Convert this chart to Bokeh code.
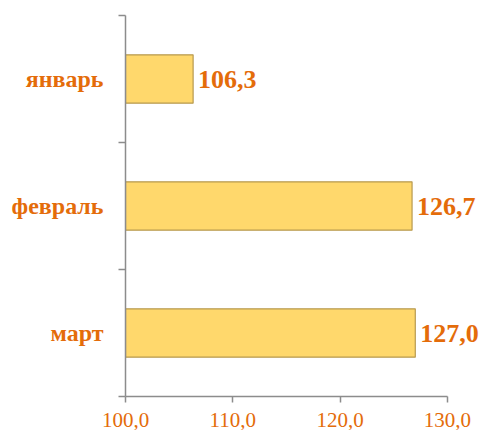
from bokeh.plotting import figure
from bokeh.models import ColumnDataSource, FixedTicker, LabelSet
from bokeh.embed import file_html
from bokeh.resources import INLINE

months = ["январь", "февраль", "март"]
values = [106.3, 126.7, 127.0]
x_ticks = [100, 110, 120, 130]

ORANGE = "#E46C0A"
FONT = "Liberation Serif"

n = len(months)
# bottom-to-top positions: first month on top
pos = [n - 1 - i + 0.5 for i in range(n)]
labels = [f"{v:.1f}".replace(".", ",") for v in values]

src = ColumnDataSource(dict(y=pos, v=values, lab=labels, left=[x_ticks[0]] * n))

p = figure(width=481, height=430, output_backend="svg", toolbar_location=None,
           x_range=(100, 133.17), y_range=(0, n),
           min_border_left=125, min_border_right=0, min_border_top=15, min_border_bottom=34)
p.outline_line_color = None
p.xgrid.visible = False
p.ygrid.visible = False

p.hbar(y="y", left="left", right="v", height=0.38, source=src,
       fill_color="#FFD86C", line_color="#B8994F", line_width=1.2)

p.add_layout(LabelSet(x="v", y="y", text="lab", source=src, x_offset=5,
                      text_baseline="middle", text_align="left",
                      text_font=FONT, text_font_style="bold",
                      text_font_size="26px", text_color=ORANGE))

xa = p.xaxis[0]
xa.ticker = FixedTicker(ticks=x_ticks, minor_ticks=[])
xa.bounds = (x_ticks[0], x_ticks[-1])
xa.major_label_overrides = {t: f"{t:.1f}".replace(".", ",") for t in x_ticks}
xa.major_tick_in = 0
xa.major_tick_out = 6
xa.minor_tick_out = 0
xa.axis_line_color = "#8C8C8C"
xa.axis_line_width = 1.5
xa.major_tick_line_color = "#8C8C8C"
xa.major_tick_line_width = 1.5
xa.major_label_text_font = FONT
xa.major_label_text_font_size = "21px"
xa.major_label_text_color = ORANGE
xa.major_label_standoff = 10

ya = p.yaxis[0]
ya.ticker = FixedTicker(ticks=pos, minor_ticks=list(range(n + 1)))
ya.major_label_overrides = {y: m for y, m in zip(pos, months)}
ya.major_tick_in = 0
ya.major_tick_out = 0
ya.minor_tick_in = 0
ya.minor_tick_out = 7
ya.minor_tick_line_color = "#8C8C8C"
ya.minor_tick_line_width = 1.5
ya.axis_line_color = "#8C8C8C"
ya.axis_line_width = 1.5
ya.major_label_text_font = FONT
ya.major_label_text_font_style = "bold"
ya.major_label_text_font_size = "24px"
ya.major_label_text_color = ORANGE
ya.major_label_standoff = 15

open("out.html", "w").write(file_html(p, INLINE))
